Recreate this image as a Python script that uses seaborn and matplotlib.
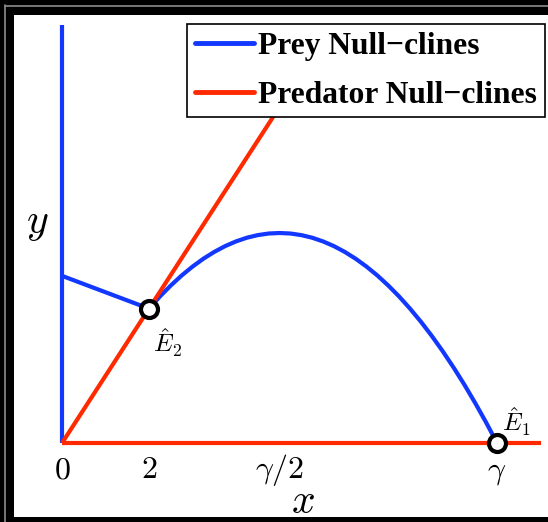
import matplotlib
matplotlib.use("Agg")
import matplotlib.pyplot as plt
from matplotlib.patches import Rectangle
from matplotlib.lines import Line2D
import seaborn as sns
import pandas as pd

sns.set_style("white")
plt.rcParams["font.family"] = ["Liberation Serif", "DejaVu Serif"]
plt.rcParams["mathtext.fontset"] = "cm"
plt.rcParams["text.color"] = "black"
plt.rcParams["xtick.color"] = "black"
plt.rcParams["xtick.labelcolor"] = "black"

# Prey null-clines: the y-axis, a straight branch for x < 2 and the hump up to gamma
prey_axis_x = [0, 0]
prey_axis_y = [0, 50]
prey_left_x = [0, 2]
prey_left_y = [19.9, 16]
prey_hump_x = [2.0, 2.25, 2.5, 2.75, 3.0, 3.25, 3.5, 3.75, 4.0, 4.25, 4.5, 4.75,
               5.0, 5.25, 5.5, 5.75, 6.0, 6.25, 6.5, 6.75, 7.0, 7.25, 7.5, 7.75,
               8.0, 8.25, 8.5, 8.75, 9.0, 9.25, 9.5, 9.75, 10.0]
prey_hump_y = [16.0, 17.44, 18.75, 19.94, 21.0, 21.94, 22.75, 23.44, 24.0, 24.44,
               24.75, 24.94, 25.0, 24.94, 24.75, 24.44, 24.0, 23.44, 22.75, 21.94,
               21.0, 19.94, 18.75, 17.44, 16.0, 14.44, 12.75, 10.94, 9.0, 6.94,
               4.75, 2.44, 0.0]

# Predator null-clines: the x-axis and the ray through E2
pred_axis_x = [0, 11]
pred_axis_y = [0, 0]
pred_ray_x = [0, 6]
pred_ray_y = [0, 48]

# Equilibria
eq_x = [2, 10]
eq_y = [16, 0]
eq_labels = [r"$\hat{E}_2$", r"$\hat{E}_1$"]

tick_pos = [0, 2, 5, 10]
tick_labels = [r"$0$", r"$2$", r"$\gamma/2$", r"$\gamma$"]

BLUE = "#1238ff"
RED = "#ff2a00"

W, H = 548, 522
fig = plt.figure(figsize=(W / 100, H / 100), dpi=100)
fig.patch.set_facecolor("black")
# white page inside the dark frame
fig.add_artist(Rectangle((14 / W, 5 / H), 1, 1 - 20 / H, transform=fig.transFigure,
                         facecolor="white", edgecolor="none", zorder=0))
fig.add_artist(Line2D([5 / W, 5 / W], [0, 1 - 5 / H], transform=fig.transFigure,
                      color="#8c8c8c", lw=1.2, zorder=0))
fig.add_artist(Line2D([5 / W, 1], [1 - 5.5 / H, 1 - 5.5 / H], transform=fig.transFigure,
                      color="#8c8c8c", lw=1.2, zorder=0))

ax = fig.add_axes([30 / W, 1 - 460 / H, 515 / W, 435 / H])
ax.patch.set_alpha(0)
for s in ax.spines.values():
    s.set_visible(False)

lw = 3.0
def draw(x, y, color):
    sns.lineplot(data=pd.DataFrame({"x": x, "y": y}), x="x", y="y", ax=ax,
                 color=color, lw=lw, sort=False, estimator=None,
                 solid_capstyle="butt", clip_on=True)

draw(prey_axis_x, prey_axis_y, BLUE)
draw(prey_left_x, prey_left_y, BLUE)
draw(prey_hump_x, prey_hump_y, BLUE)
draw(pred_ray_x, pred_ray_y, RED)
draw(pred_axis_x, pred_axis_y, RED)

sns.scatterplot(x=eq_x, y=eq_y, ax=ax, s=150, facecolor="white",
                edgecolor="black", linewidth=3, zorder=5, clip_on=False)

ax.text(eq_x[0] + 0.1, eq_y[0] - 2.2, eq_labels[0], fontsize=18, ha="left", va="top")
ax.text(eq_x[1] + 0.12, eq_y[1] + 0.6, eq_labels[1], fontsize=18, ha="left", va="bottom")

ax.set_xlim(-0.7356, 11.103)
ax.set_ylim(-2.02, 49.76)
ax.set_xticks(tick_pos)
ax.set_xticklabels(tick_labels, fontsize=23)
for lbl in ax.get_xticklabels():
    lbl.set_verticalalignment("baseline")
ax.set_yticks([])
ax.tick_params(axis="x", length=0, pad=13)
ax.set_xlabel("")
ax.set_ylabel("")

fig.text(303 / W, 1 - 503 / H, r"$x$", fontsize=30, ha="center", va="center")
fig.text(37 / W, 1 - 224 / H, r"$y$", fontsize=30, ha="center", va="center")

handles = [Line2D([], [], color=BLUE, lw=3.5), Line2D([], [], color=RED, lw=3.5)]
leg = fig.legend(handles, ["Prey Null\u2212clines", "Predator Null\u2212clines"],
                 loc="upper right", bbox_to_anchor=(545 / W, 1 - 24 / H),
                 bbox_transform=fig.transFigure, borderaxespad=0,
                 prop={"family": "Liberation Serif", "weight": "bold", "size": 22.7},
                 frameon=True, fancybox=False, framealpha=1, edgecolor="black",
                 handlelength=1.85, handletextpad=0.15, labelspacing=0.62,
                 borderpad=0.25)
leg.get_frame().set_linewidth(1.2)
for t in leg.get_texts():
    t.set_color("black")

fig.savefig("out.png", dpi=100, facecolor=fig.get_facecolor())
